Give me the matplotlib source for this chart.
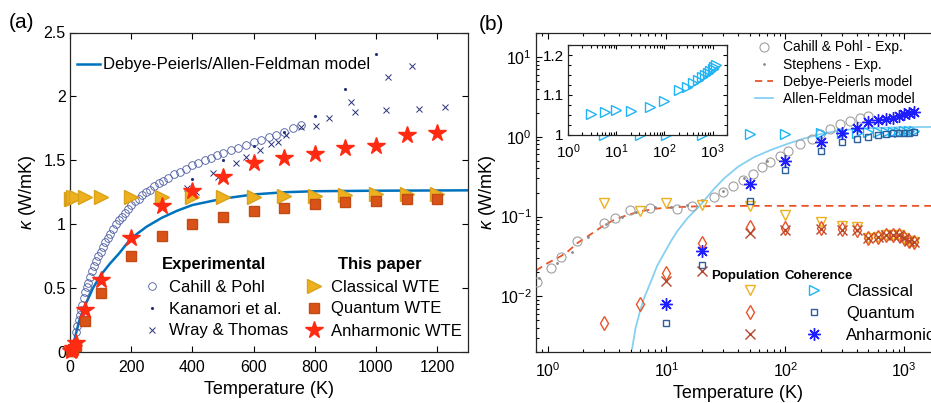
import numpy as np
import matplotlib
matplotlib.use('Agg')
import matplotlib.pyplot as plt
from matplotlib.lines import Line2D
from matplotlib.legend_handler import HandlerTuple
from matplotlib.ticker import FuncFormatter, LogLocator, NullFormatter, MultipleLocator

plt.rcParams['font.family'] = ['Liberation Sans', 'DejaVu Sans']
plt.rcParams['mathtext.fontset'] = 'custom'
plt.rcParams['mathtext.rm'] = 'Liberation Sans'
plt.rcParams['mathtext.it'] = 'Liberation Sans:italic'
plt.rcParams['axes.linewidth'] = 0.9
plt.rcParams['axes.edgecolor'] = '#262626'

# ---------------- data, panel (a) ----------------
# Cahill & Pohl experiment
T_cp_a = [20, 24, 28, 32, 36, 40, 45, 50, 55, 60, 66, 72, 78, 85, 92, 100, 108, 116, 124, 132,
          140, 150, 160, 170, 180, 190, 200, 212, 224, 236, 248, 260, 275, 290, 305, 320, 340,
          360, 380, 400, 420, 440, 460, 480, 500, 525, 550, 575, 600, 625, 650, 675, 700, 730, 755]
k_cp_a = [0.16, 0.20, 0.25, 0.29, 0.33, 0.37, 0.42, 0.47, 0.51, 0.54, 0.59, 0.63, 0.67, 0.71, 0.75,
          0.78, 0.82, 0.86, 0.89, 0.92, 0.96, 1.00, 1.03, 1.06, 1.09, 1.12, 1.15, 1.18, 1.20, 1.23,
          1.25, 1.27, 1.30, 1.32, 1.34, 1.36, 1.39, 1.41, 1.43, 1.46, 1.48, 1.50, 1.52, 1.54, 1.56,
          1.58, 1.60, 1.62, 1.64, 1.66, 1.68, 1.70, 1.72, 1.75, 1.78]
# Kanamori et al.
T_kan = [400, 500, 600, 700, 800, 900, 1000]
k_kan = [1.35, 1.50, 1.61, 1.72, 1.85, 2.06, 2.33]
# Wray & Thomas
T_wray = [381, 413, 468, 484, 544, 576, 620, 658, 680, 707, 756, 805, 845, 917, 933, 1033, 1038, 1117, 1142, 1226]
k_wray = [1.28, 1.25, 1.40, 1.37, 1.475, 1.525, 1.58, 1.625, 1.645, 1.70, 1.76, 1.77, 1.83, 1.96, 1.88, 1.89, 2.15, 2.24, 1.905, 1.92]
# Debye-Peierls/Allen-Feldman model
T_model_a = [0, 3, 6, 10, 15, 20, 25, 30, 40, 50, 60, 75, 100, 130, 160, 200, 250, 300, 350, 400,
             500, 600, 700, 800, 1000, 1300]
k_model_a = [0, 0.01, 0.03, 0.06, 0.10, 0.15, 0.195, 0.24, 0.31, 0.37, 0.42, 0.50, 0.60, 0.69, 0.77,
             0.89, 0.98, 1.05, 1.105, 1.15, 1.20, 1.233, 1.25, 1.258, 1.262, 1.265]
# this paper (WTE)
T_wte = [3, 6, 10, 20, 50, 100, 200, 300, 400, 500, 600, 700, 800, 900, 1000, 1100, 1200]
k_classical = [1.20, 1.20, 1.21, 1.21, 1.21, 1.21, 1.21, 1.21, 1.21, 1.21, 1.21, 1.22, 1.22, 1.23, 1.24, 1.24, 1.24]
k_quantum = [0.004, 0.008, 0.02, 0.05, 0.24, 0.46, 0.75, 0.91, 1.005, 1.06, 1.10, 1.13, 1.155, 1.175, 1.185, 1.195, 1.20]
k_anharm = [0.005, 0.012, 0.03, 0.07, 0.33, 0.56, 0.89, 1.14, 1.26, 1.37, 1.48, 1.52, 1.55, 1.60, 1.61, 1.70, 1.71]

# ---------------- data, panel (b) ----------------
T_cp_b = [0.82, 1.06, 1.29, 1.78, 3.0, 3.7, 4.9, 7.3, 12.3, 16.4, 24.9, 30.1, 36.6, 44.4, 53.9, 64,
          74.9, 90.5, 106, 133, 168, 196, 238, 290, 352, 427, 498]
k_cp_b = [0.0151, 0.0223, 0.0311, 0.050, 0.082, 0.095, 0.120, 0.129, 0.126, 0.135, 0.175, 0.202,
          0.239, 0.284, 0.337, 0.412, 0.476, 0.581, 0.67, 0.819, 0.944, 1.09, 1.257, 1.45, 1.58, 1.72, 1.82]
T_steph = [0.85, 1.2, 1.6, 2.2, 3.1, 4.2, 5.5, 8, 11, 15, 20, 30, 45, 70]
k_steph = [0.017, 0.026, 0.036, 0.055, 0.08, 0.10, 0.115, 0.13, 0.13, 0.14, 0.16, 0.21, 0.30, 0.50]
T_dp = [0.8, 1.0, 1.29, 1.5, 1.78, 2.2, 3.0, 3.7, 4.67, 6.0, 8.4, 12.3, 18, 25, 50, 2000]
k_dp = [0.021, 0.026, 0.0317, 0.037, 0.0464, 0.057, 0.078, 0.092, 0.104, 0.116, 0.126, 0.131, 0.134,
        0.135, 0.136, 0.136]
T_af = [5.15, 5.5, 6.0, 6.44, 7.0, 7.5, 8.35, 9.5, 11, 12.3, 15, 19.3, 25, 30.5, 40, 54.3, 75, 103,
        140, 197, 270, 376, 500, 716, 1000, 2000]
k_af = [0.0022, 0.0040, 0.0065, 0.0092, 0.0125, 0.016, 0.024, 0.034, 0.050, 0.065, 0.095, 0.139,
        0.22, 0.30, 0.42, 0.553, 0.68, 0.81, 0.94, 1.08, 1.18, 1.25, 1.28, 1.30, 1.32, 1.33]

# population contributions
k_pop_classical = [0.146, 0.118, 0.146, 0.139, 0.135, 0.104, 0.086, 0.076, 0.073, 0.053, 0.056, 0.058,
                   0.059, 0.058, 0.054, 0.050, 0.048]
k_pop_quantum = [0.0046, 0.008, 0.0197, 0.0465, 0.0734, 0.071, 0.071, 0.069, 0.068, 0.053, 0.056,
                 0.058, 0.059, 0.058, 0.054, 0.050, 0.048]
T_pop_anh = [10, 20, 50, 100, 200, 300, 400, 500, 600, 700, 800, 900, 1000, 1100, 1200]
k_pop_anharm = [0.0155, 0.0206, 0.063, 0.068, 0.069, 0.068, 0.067, 0.053, 0.056, 0.058, 0.059, 0.058,
                0.054, 0.050, 0.048]
# coherence contributions
k_coh_classical = [1.052, 1.058, 1.062, 1.061, 1.069, 1.085, 1.113, 1.12, 1.13, 1.138, 1.145, 1.15,
                   1.155, 1.16, 1.165, 1.17, 1.175]
T_coh_q = [10, 20, 50, 100, 200, 300, 400, 500, 600, 700, 800, 900, 1000, 1100, 1200]
k_coh_quantum = [0.0046, 0.025, 0.157, 0.385, 0.67, 0.85, 0.935, 1.0, 1.05, 1.08, 1.11, 1.12, 1.13, 1.13, 1.14]
k_coh_anharm = [0.008, 0.0365, 0.258, 0.503, 0.867, 1.13, 1.28, 1.54, 1.61, 1.66, 1.74, 1.82, 1.91, 2.0, 2.06]

# colours
c_cp = '#4a5aa0'
c_navy = '#26307a'
c_model = '#0072BD'
c_yellow = '#EDB120'
c_orange = '#D95319'
c_red = '#FF2A12'
c_gray = '#a0a0a0'
c_dp = '#E8542A'
c_af = '#86D0F2'
c_cyan = '#1FB4F5'
c_sq = '#2E5F9A'
c_blue = '#1E1EFF'
c_brown = '#B5472B'

W, H = 931, 403
fig = plt.figure(figsize=(W / 100, H / 100), dpi=100)


def fx(px):
    return px / W


def fy(py):
    return 1 - py / H


ax1 = fig.add_axes([fx(70), fy(352), (467.7 - 70) / W, (352 - 32.5) / H])
ax2 = fig.add_axes([fx(536), fy(352), (940 - 536) / W, (352 - 33) / H])
axin = fig.add_axes([fx(568), fy(135), (727 - 568) / W, (135 - 45) / H])

# ---------------- panel (a) ----------------
ax1.plot(T_model_a, k_model_a, color=c_model, lw=1.8, zorder=2)
ax1.plot(T_cp_a, k_cp_a, 'o', mfc='none', mec=c_cp, ms=5.5, mew=0.6, zorder=3)
ax1.plot(T_kan, k_kan, '.', color=c_navy, ms=2.5, zorder=3)
ax1.plot(T_wray, k_wray, 'x', color=c_navy, ms=5, mew=0.7, zorder=3)
ax1.plot(T_wte, k_classical, '>', color=c_yellow, mec='#d9a21a', ms=10, clip_on=False, zorder=4)
ax1.plot(T_wte, k_quantum, 's', color=c_orange, mec='#c24a14', ms=7, clip_on=False, zorder=4)
ax1.plot(T_wte, k_anharm, '*', color=c_red, mec=c_red, ms=13, clip_on=False, zorder=5)

ax1.set_xlim(0, 1300)
ax1.set_ylim(0, 2.5)
ax1.set_xticks(range(0, 1201, 200))
ax1.set_yticks([0, 0.5, 1, 1.5, 2, 2.5])
ax1.yaxis.set_major_formatter(FuncFormatter(lambda v, p: '%g' % v))
ax1.tick_params(direction='in', top=True, right=True, length=4, width=0.8, labelsize=11.5)
ax1.tick_params(axis='x', pad=6)
ax1.tick_params(axis='y', pad=3)
ax1.set_xlabel('Temperature (K)', fontsize=13)
ax1.set_ylabel(r'$\kappa$ (W/mK)', fontsize=13)
ax1.xaxis.set_label_coords(0.5, -0.09)
ax1.yaxis.set_label_coords(-0.08, 0.5)

# legend for the model line
leg_a1 = ax1.legend(handles=[Line2D([], [], color=c_model, lw=1.8)],
                    labels=['Debye-Peierls/Allen-Feldman model'],
                    loc='upper left', bbox_to_anchor=(fx(77), fy(57.5)), bbox_transform=fig.transFigure,
                    frameon=False, fontsize=12, handlelength=1.4, handletextpad=0.15,
                    borderpad=0, borderaxespad=0)
ax1.add_artist(leg_a1)

# legend for the data
h_a = [Line2D([], [], ls='none', marker='o', mfc='none', mec=c_cp, ms=5.5, mew=0.6),
       Line2D([], [], ls='none', marker='.', color=c_navy, ms=2.5),
       Line2D([], [], ls='none', marker='x', color=c_navy, ms=5, mew=0.7),
       Line2D([], [], ls='none', marker='>', color=c_yellow, mec='#d9a21a', ms=10),
       Line2D([], [], ls='none', marker='s', color=c_orange, mec='#c24a14', ms=7),
       Line2D([], [], ls='none', marker='*', color=c_red, ms=13)]
l_a = ['Cahill & Pohl', 'Kanamori et al.', 'Wray & Thomas',
       'Classical WTE', 'Quantum WTE', 'Anharmonic WTE']
ax1.legend(handles=h_a, labels=l_a, ncol=2, loc='upper left',
           bbox_to_anchor=(fx(143.7), fy(279.5)), bbox_transform=fig.transFigure,
           frameon=False, fontsize=12, handlelength=1.0, handletextpad=0.52,
           columnspacing=1.05, labelspacing=0.42, borderpad=0, borderaxespad=0)
fig.text(fx(214), fy(265), 'Experimental', fontsize=12, fontweight='bold', ha='center', va='center')
fig.text(fx(380), fy(265), 'This paper', fontsize=12, fontweight='bold', ha='center', va='center')

# ---------------- panel (b) ----------------
ax2.plot(T_dp, k_dp, color=c_dp, lw=1.3, ls=(0, (4, 2.8)), zorder=2)
ax2.plot(T_af, k_af, color=c_af, lw=1.3, zorder=2)
ax2.plot(T_cp_b, k_cp_b, 'o', mfc='none', mec=c_gray, ms=6.5, mew=0.8, zorder=3)
ax2.plot(T_steph, k_steph, '.', color='#8a8a8a', ms=2, zorder=3)

ax2.plot(T_wte, k_pop_classical, 'v', mfc='none', mec=c_yellow, ms=7, mew=1.0, zorder=4)
ax2.plot(T_wte, k_pop_quantum, 'd', mfc='none', mec=c_dp, ms=7.5, mew=1.0, zorder=4)
ax2.plot(T_pop_anh, k_pop_anharm, 'x', color=c_brown, ms=6.5, mew=1.0, zorder=4)
ax2.plot(T_wte, k_coh_classical, '>', mfc='none', mec=c_cyan, ms=6.5, mew=1.0, zorder=4)
ax2.plot(T_coh_q, k_coh_quantum, 's', mfc='none', mec=c_sq, ms=5, mew=1.0, zorder=4)
ax2.plot(T_coh_q, k_coh_anharm, marker=(8, 2, 0), ls='none', color=c_blue, ms=9, mew=1.0, zorder=5)

ax2.set_xscale('log')
ax2.set_yscale('log')
ax2.set_xlim(0.8, 2000)
ax2.set_ylim(0.002, 20)
ax2.xaxis.set_major_locator(LogLocator(base=10, numticks=10))
ax2.xaxis.set_minor_locator(LogLocator(base=10, subs=np.arange(2, 10), numticks=20))
ax2.xaxis.set_minor_formatter(NullFormatter())
ax2.yaxis.set_minor_locator(LogLocator(base=10, subs=np.arange(2, 10), numticks=20))
ax2.yaxis.set_minor_formatter(NullFormatter())
ax2.tick_params(which='both', direction='in', top=True, right=True, width=0.8, labelsize=11.5)
ax2.tick_params(which='major', length=4)
ax2.tick_params(which='minor', length=2.5)
ax2.tick_params(axis='x', pad=7)
ax2.tick_params(axis='y', pad=3)
ax2.set_xlabel('Temperature (K)', fontsize=13)
ax2.set_ylabel(r'$\kappa$ (W/mK)', fontsize=13)
ax2.xaxis.set_label_coords(0.5, -0.105)
ax2.yaxis.set_label_coords(-0.094, 0.5)

# legend for experiments and models
h_b1 = [Line2D([], [], ls='none', marker='o', mfc='none', mec=c_gray, ms=6.5, mew=0.8),
        Line2D([], [], ls='none', marker='.', color='#8a8a8a', ms=2),
        Line2D([], [], color=c_dp, lw=1.3, ls=(0, (4, 2.8))),
        Line2D([], [], color=c_af, lw=1.3)]
l_b1 = ['Cahill & Pohl - Exp.', 'Stephens - Exp.', 'Debye-Peierls model', 'Allen-Feldman model']
leg_b1 = ax2.legend(handles=h_b1, labels=l_b1, loc='upper left',
                    bbox_to_anchor=(fx(755), fy(40.5)), bbox_transform=fig.transFigure,
                    frameon=False, fontsize=10, handlelength=1.3, handletextpad=0.75,
                    labelspacing=0.22, borderpad=0, borderaxespad=0)
ax2.add_artist(leg_b1)

# legend for population / coherence
pop_h = [Line2D([], [], ls='none', marker='v', mfc='none', mec=c_yellow, ms=7, mew=1.0),
         Line2D([], [], ls='none', marker='d', mfc='none', mec=c_dp, ms=7.5, mew=1.0),
         Line2D([], [], ls='none', marker='x', color=c_brown, ms=6.5, mew=1.0)]
coh_h = [Line2D([], [], ls='none', marker='>', mfc='none', mec=c_cyan, ms=6.5, mew=1.0),
         Line2D([], [], ls='none', marker='s', mfc='none', mec=c_sq, ms=5, mew=1.0),
         Line2D([], [], ls='none', marker=(8, 2, 0), color=c_blue, ms=9, mew=1.0)]
ax2.legend(handles=list(zip(pop_h, coh_h)), labels=['Classical', 'Quantum', 'Anharmonic'],
           handler_map={tuple: HandlerTuple(ndivide=None, pad=0)},
           loc='upper left', bbox_to_anchor=(fx(718.8), fy(284)), bbox_transform=fig.transFigure,
           frameon=False, fontsize=12, handlelength=7.6, handletextpad=0.05,
           labelspacing=0.42, borderpad=0, borderaxespad=0)
fig.text(fx(745.5), fy(276), 'Population', fontsize=9.5, fontweight='bold', ha='center', va='center')
fig.text(fx(819), fy(276), 'Coherence', fontsize=9.5, fontweight='bold', ha='center', va='center')

# ---------------- inset ----------------
axin.plot(T_wte, k_coh_classical, '>', mfc='none', mec=c_cyan, ms=6.5, mew=1.0)
axin.set_xscale('log')
axin.set_xlim(1, 2000)
axin.set_ylim(1, 1.225)
axin.set_yticks([1, 1.1, 1.2])
axin.yaxis.set_major_formatter(FuncFormatter(lambda v, p: '%g' % v))
axin.xaxis.set_major_locator(LogLocator(base=10, numticks=10))
axin.xaxis.set_minor_locator(LogLocator(base=10, subs=np.arange(2, 10), numticks=20))
axin.xaxis.set_minor_formatter(NullFormatter())
axin.yaxis.set_minor_locator(MultipleLocator(0.025))
axin.tick_params(which='both', direction='in', top=True, right=True, width=0.8, labelsize=11)
axin.tick_params(which='major', length=3)
axin.tick_params(which='minor', length=2)
axin.tick_params(axis='x', pad=5.5)
axin.tick_params(axis='y', pad=3)

# panel labels
fig.text(fx(22), fy(23), '(a)', fontsize=15, ha='center', va='center')
fig.text(fx(491), fy(25), '(b)', fontsize=15, ha='center', va='center')

fig.savefig('out.png', dpi=100)
